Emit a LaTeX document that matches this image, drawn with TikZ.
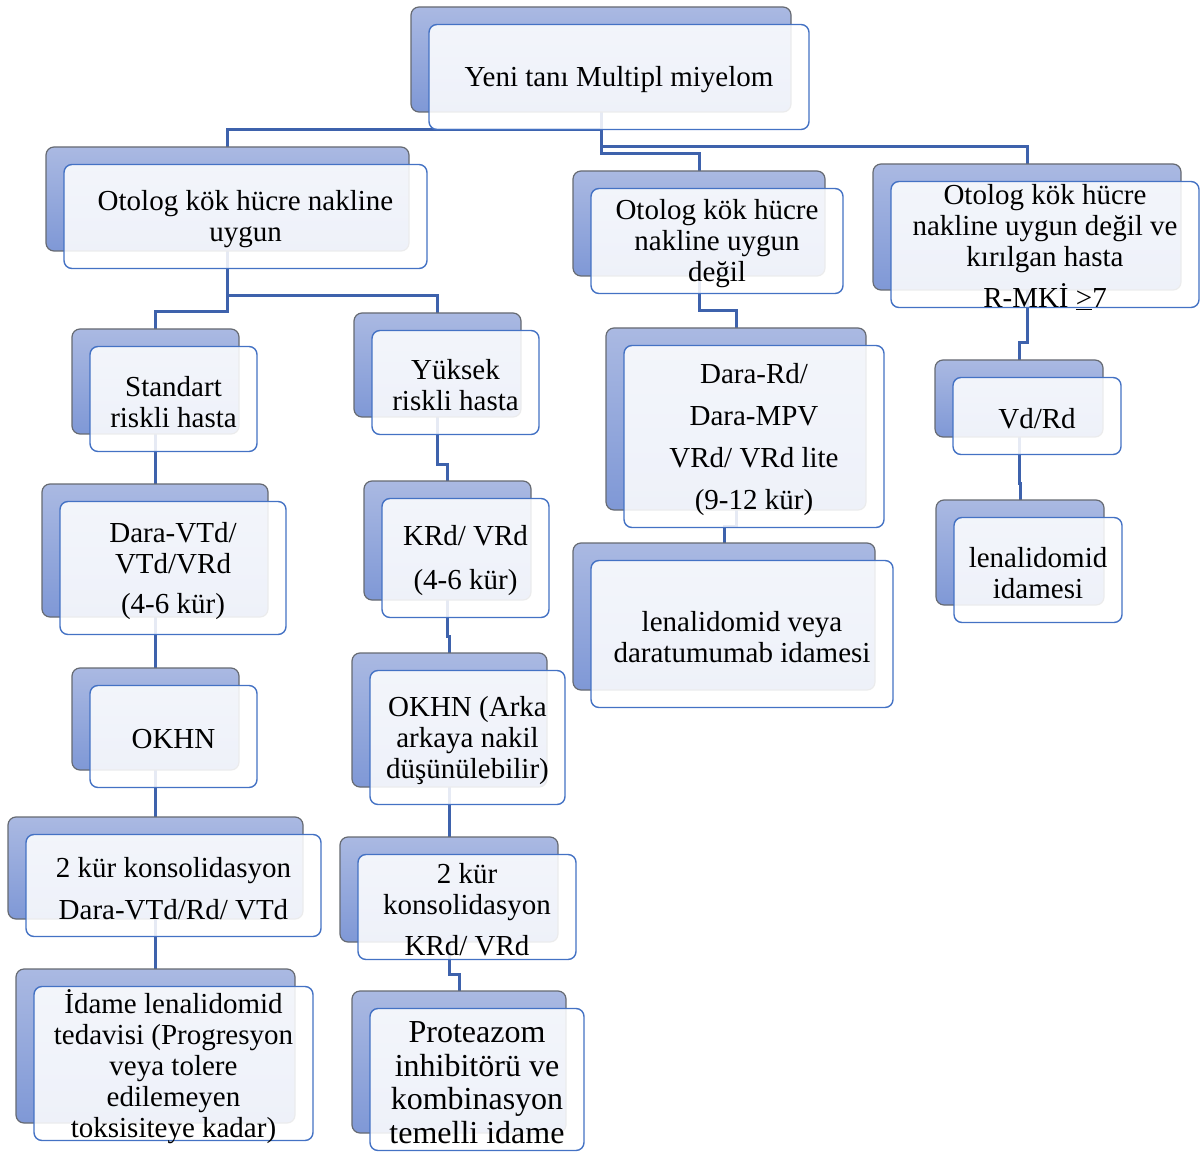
\documentclass[tikz,border=0pt]{standalone}
\usepackage{fontspec}
\setmainfont{Liberation Serif}
\usetikzlibrary{calc}
\pgfdeclarelayer{lines}
\pgfdeclarelayer{backs}
\pgfsetlayers{lines,backs,main}
\definecolor{bktop}{HTML}{AAB9E2}
\definecolor{bkbot}{HTML}{7F98D6}
\definecolor{bkline}{HTML}{666A72}
\definecolor{frline}{HTML}{4472C4}
\definecolor{connc}{HTML}{3E62AC}
\tikzset{
  backbox/.style={rectangle, rounded corners=4pt, draw=bkline, line width=0.6pt,
    top color=bktop, bottom color=bkbot, inner sep=0pt, outer sep=0pt},
  frontbox/.style={rectangle, rounded corners=4pt, draw=frline, line width=0.7pt,
    fill=white, fill opacity=0.87, inner sep=0pt, outer sep=0pt},
  boxtext/.style={align=center, inner sep=0pt, yshift=-1.5pt, font=\fontsize{14.5}{15.5}\selectfont},
  conn/.style={draw=connc, line width=1.5pt}
}
\newcommand\mmnode[7][]{%
  \pgfmathsetmacro\mmw{(#5-#3)*0.5}%
  \pgfmathsetmacro\mmh{(#6-#4)*0.5}%
  \begin{pgfonlayer}{backs}
  \node[backbox, minimum width=\mmw pt, minimum height=\mmh pt] (b#2) at ({(#3+#5)/2},{(#4+#6)/2}) {};
  \end{pgfonlayer}
  \node[frontbox, minimum width=\mmw pt, minimum height=\mmh pt] (#2) at ({(#3+#5)/2+18},{(#4+#6)/2+17.5}) {};
  \node[boxtext,#1] (t#2) at (#2.center) {#7};
}
\newcommand\mmconn[2]{%
  \begin{pgfonlayer}{lines}
  \draw[conn] (b#1.south) |- ($(b#2.north)+(0,-17)$) -| (b#2.north);
  \end{pgfonlayer}
}
\begin{document}
\begin{tikzpicture}[x=0.5pt,y=-0.5pt]
\useasboundingbox (0,0) rectangle (1203,1154);
\mmnode{root}{411}{7}{791}{112}{Yeni tanı Multipl miyelom}
\mmnode{uygun}{46}{147}{409}{251}{Otolog kök hücre nakline\\uygun}
\mmnode{degil}{573}{171}{825}{276}{Otolog kök hücre\\nakline uygun\\değil}
\mmnode{kirilgan}{873}{164}{1181}{290}{Otolog kök hücre\\nakline uygun değil ve\\kırılgan hasta\\[5pt]R-MKİ \underline{>}7}
\mmnode{standart}{72}{329}{239}{434}{Standart\\riskli hasta}
\mmnode{yuksek}{354}{313}{521}{417}{Yüksek\\riskli hasta}
\mmnode{daravtd}{42}{484}{268}{617}{Dara-VTd/\\VTd/VRd\\[4.5pt](4-6 kür)}
\mmnode{krd}{364}{481}{531}{600}{KRd/ VRd\\[6.5pt](4-6 kür)}
\mmnode{okhn}{72}{668}{239}{770}{OKHN}
\mmnode{okhnarka}{352}{653}{547}{787}{OKHN (Arka\\arkaya nakil\\düşünülebilir)}
\mmnode{konsA}{8}{817}{303}{919}{2 kür konsolidasyon\\[5.5pt]Dara-VTd/Rd/ VTd}
\mmnode{konsB}{340}{837}{558}{942}{2 kür\\konsolidasyon\\[5pt]KRd/ VRd}
\mmnode{idame}{16}{969}{295}{1123}{İdame lenalidomid\\tedavisi (Progresyon\\veya tolere\\edilemeyen\\toksisiteye kadar)}
\mmnode[font=\fontsize{16}{16.75}\selectfont]{proteazom}{352}{991}{566}{1133}{Proteazom\\inhibitörü ve\\kombinasyon\\temelli idame}
\mmnode{darard}{606}{328}{866}{510}{Dara-Rd/\\[5.5pt]Dara-MPV\\[5.5pt]VRd/ VRd lite\\[5.5pt](9-12 kür)}
\mmnode{lenaveya}{573}{543}{875}{690}{lenalidomid veya\\daratumumab idamesi}
\mmnode{vdrd}{935}{360}{1103}{437}{Vd/Rd}
\mmnode{lenaid}{936}{500}{1104}{605}{lenalidomid\\idamesi}
\mmconn{root}{uygun}
\mmconn{root}{degil}
\mmconn{root}{kirilgan}
\mmconn{uygun}{standart}
\mmconn{uygun}{yuksek}
\mmconn{standart}{daravtd}
\mmconn{daravtd}{okhn}
\mmconn{okhn}{konsA}
\mmconn{konsA}{idame}
\mmconn{yuksek}{krd}
\mmconn{krd}{okhnarka}
\mmconn{okhnarka}{konsB}
\mmconn{konsB}{proteazom}
\mmconn{degil}{darard}
\mmconn{darard}{lenaveya}
\mmconn{kirilgan}{vdrd}
\mmconn{vdrd}{lenaid}
\end{tikzpicture}
\end{document}
